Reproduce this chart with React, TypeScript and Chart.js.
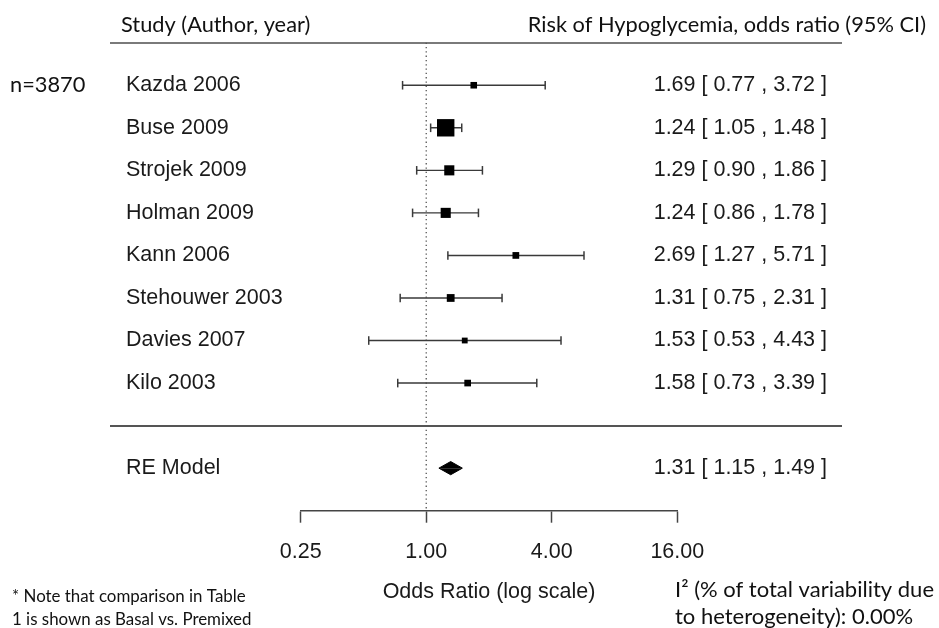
import { useEffect, useRef } from 'react';
import { Chart, registerables } from 'chart.js';

Chart.register(...registerables);

// Study rows (top to bottom) with odds ratio and 95% CI
const studies = [
  'Kazda 2006',
  'Buse 2009',
  'Strojek 2009',
  'Holman 2009',
  'Kann 2006',
  'Stehouwer 2003',
  'Davies 2007',
  'Kilo 2003',
];
const oddsRatio = [1.69, 1.24, 1.29, 1.24, 2.69, 1.31, 1.53, 1.58];
const ciLower = [0.77, 1.05, 0.9, 0.86, 1.27, 0.75, 0.53, 0.73];
const ciUpper = [3.72, 1.48, 1.86, 1.78, 5.71, 2.31, 4.43, 3.39];

// Random-effects summary
const pooledLabel = 'RE Model';
const pooledEstimate = 1.31;
const pooledLower = 1.15;
const pooledUpper = 1.49;

const axisTicks = [0.25, 1, 4, 16];

const W = 939;
const H = 628;
const PLOT_FONT = '"Liberation Sans", Arial, sans-serif';
const NOTE_FONT = 'Lato, "Open Sans", sans-serif';
const TEXT = '#1a1a1a';
const INK = '#3a3a3a';

// Row layout on the y scale: header rule at -1, studies 0..7, separator 8, summary 9, axis 10
const HEADER_ROW = -1;
const SEPARATOR_ROW = studies.length;
const POOLED_ROW = studies.length + 1;
const AXIS_ROW = studies.length + 2;

const fmt = (v: number) => v.toFixed(2);
const ciText = (e: number, l: number, u: number) => `${fmt(e)} [ ${fmt(l)} , ${fmt(u)} ]`;

// Square size follows study precision (1/SE from the CI), rescaled to 0.5..1.5
const precision = ciLower.map((lo, i) => (2 * 1.96) / Math.log(ciUpper[i] / lo));
const pMin = Math.min(...precision);
const pMax = Math.max(...precision);
const squareSide = precision.map((p) => 11.6 * (0.5 + (p - pMin) / (pMax - pMin)));

const RULE_LEFT = 110;
const RULE_RIGHT = 842;
const DIAMOND_HALF = 0.155;

const forestDecor = {
  id: 'forestDecor',
  beforeDatasetsDraw(chart: any) {
    const { ctx } = chart;
    const y = chart.scales.y;
    ctx.save();
    ctx.lineWidth = 2;
    ctx.strokeStyle = '#7a7a7a';
    const yTop = Math.round(y.getPixelForValue(HEADER_ROW));
    ctx.beginPath();
    ctx.moveTo(RULE_LEFT, yTop);
    ctx.lineTo(RULE_RIGHT, yTop);
    ctx.stroke();
    ctx.strokeStyle = '#555';
    const ySep = Math.round(y.getPixelForValue(SEPARATOR_ROW));
    ctx.beginPath();
    ctx.moveTo(RULE_LEFT, ySep);
    ctx.lineTo(RULE_RIGHT, ySep);
    ctx.stroke();
    ctx.restore();
  },
  afterDraw(chart: any) {
    const { ctx } = chart;
    const y = chart.scales.y;
    ctx.save();

    // column headers
    ctx.fillStyle = '#111';
    ctx.font = `21.8px ${NOTE_FONT}`;
    ctx.textBaseline = 'alphabetic';
    ctx.textAlign = 'left';
    ctx.fillText('Study (Author, year)', 121, 32);
    ctx.textAlign = 'right';
    ctx.fillText('Risk of Hypoglycemia, odds ratio (95% CI)', 926, 32);

    ctx.textAlign = 'left';
    ctx.fillText('n=3870', 10, y.getPixelForValue(0) + 7);

    // study labels and estimates
    ctx.fillStyle = TEXT;
    ctx.font = `21.5px ${PLOT_FONT}`;
    ctx.textBaseline = 'middle';
    studies.forEach((name, i) => {
      const py = y.getPixelForValue(i);
      ctx.textAlign = 'left';
      ctx.fillText(name, 126, py);
      ctx.textAlign = 'right';
      ctx.fillText(ciText(oddsRatio[i], ciLower[i], ciUpper[i]), 827, py);
    });
    const pyPooled = y.getPixelForValue(POOLED_ROW);
    ctx.textAlign = 'left';
    ctx.fillText(pooledLabel, 126, pyPooled);
    ctx.textAlign = 'right';
    ctx.fillText(ciText(pooledEstimate, pooledLower, pooledUpper), 827, pyPooled);

    // footnotes
    ctx.fillStyle = '#111';
    ctx.textBaseline = 'alphabetic';
    ctx.textAlign = 'left';
    ctx.font = `16.9px ${NOTE_FONT}`;
    ctx.fillText('* Note that comparison in Table', 12, 602);
    ctx.fillText('1 is shown as Basal vs. Premixed', 12, 625);
    ctx.font = `22px ${NOTE_FONT}`;
    ctx.fillText('I\u00B2 (% of total variability due', 675, 597);
    ctx.fillText('to heterogeneity): 0.00%', 675, 624);

    ctx.restore();
  },
};

export default function App() {
  const ref = useRef<HTMLCanvasElement | null>(null);

  useEffect(() => {
    const canvas = ref.current;
    if (!canvas) return;

    const whiskers: any[] = [];
    const caps: any[] = [];
    studies.forEach((_, i) => {
      whiskers.push({ x: ciLower[i], y: i }, { x: ciUpper[i], y: i }, { x: null, y: null });
      caps.push({ x: ciLower[i], y: i }, { x: ciUpper[i], y: i });
    });
    const squares = oddsRatio.map((v, i) => ({ x: v, y: i }));

    const chart = new Chart(canvas, {
      type: 'scatter',
      data: {
        datasets: [
          {
            type: 'line',
            label: 'no effect',
            data: [
              { x: 1, y: HEADER_ROW },
              { x: 1, y: AXIS_ROW },
            ],
            borderColor: '#555',
            borderWidth: 1.3,
            borderDash: [1.3, 3],
            pointRadius: 0,
            order: 6,
            clip: false,
          } as any,
          {
            type: 'line',
            label: 'CI',
            data: whiskers,
            borderColor: INK,
            borderWidth: 1.4,
            pointRadius: 0,
            spanGaps: false,
            order: 5,
            clip: false,
          } as any,
          {
            type: 'scatter',
            label: 'caps',
            data: caps,
            pointStyle: 'line',
            pointRotation: 90,
            pointRadius: 4.3,
            pointBorderWidth: 1.5,
            pointBorderColor: INK,
            order: 4,
            clip: false,
          } as any,
          {
            type: 'scatter',
            label: 'estimates',
            data: squares,
            pointStyle: 'rect',
            pointRadius: squareSide.map((s) => s / Math.SQRT2),
            pointBackgroundColor: '#000',
            pointBorderWidth: 0,
            order: 3,
            clip: false,
          } as any,
          {
            type: 'line',
            label: 'pooled upper',
            data: [
              { x: pooledLower, y: POOLED_ROW },
              { x: pooledEstimate, y: POOLED_ROW - DIAMOND_HALF },
              { x: pooledUpper, y: POOLED_ROW },
            ],
            fill: { value: POOLED_ROW },
            backgroundColor: '#000',
            borderColor: '#000',
            borderWidth: 1,
            pointRadius: 0,
            tension: 0,
            order: 2,
            clip: false,
          } as any,
          {
            type: 'line',
            label: 'pooled lower',
            data: [
              { x: pooledLower, y: POOLED_ROW },
              { x: pooledEstimate, y: POOLED_ROW + DIAMOND_HALF },
              { x: pooledUpper, y: POOLED_ROW },
            ],
            fill: { value: POOLED_ROW },
            backgroundColor: '#000',
            borderColor: '#000',
            borderWidth: 1,
            pointRadius: 0,
            tension: 0,
            order: 1,
            clip: false,
          } as any,
        ],
      },
      options: {
        responsive: false,
        animation: false,
        events: [],
        layout: { padding: { left: 300.7, right: W - 677.3, top: 42.7, bottom: 0 } },
        plugins: {
          legend: { display: false },
          tooltip: { enabled: false },
        },
        scales: {
          x: {
            type: 'logarithmic',
            position: 'bottom',
            min: axisTicks[0],
            max: axisTicks[axisTicks.length - 1],
            afterBuildTicks: (s: any) => {
              s.ticks = axisTicks.map((v) => ({ value: v }));
            },
            afterFit: (s: any) => {
              s.height = H - 510.7;
            },
            ticks: {
              autoSkip: false,
              maxRotation: 0,
              padding: 16.5,
              color: TEXT,
              font: { family: PLOT_FONT, size: 21.5 },
              callback: (v: any) => Number(v).toFixed(2),
            },
            grid: {
              drawOnChartArea: false,
              drawTicks: true,
              tickLength: 12,
              tickColor: '#444',
              tickWidth: 1.5,
              color: '#444',
            },
            border: { display: true, color: '#444', width: 1.5 },
            title: {
              display: true,
              text: 'Odds Ratio (log scale)',
              color: TEXT,
              font: { family: PLOT_FONT, size: 21.5 },
              padding: { top: 0, bottom: 23 },
            },
          },
          y: {
            type: 'linear',
            display: false,
            reverse: true,
            min: HEADER_ROW,
            max: AXIS_ROW,
          },
        },
      } as any,
      plugins: [forestDecor],
    });

    return () => chart.destroy();
  }, []);

  return (
    <div style={{ position: 'absolute', left: 0, top: 0, width: W, height: H, background: '#fff' }}>
      <canvas ref={ref} width={W} height={H} style={{ display: 'block' }} />
    </div>
  );
}
